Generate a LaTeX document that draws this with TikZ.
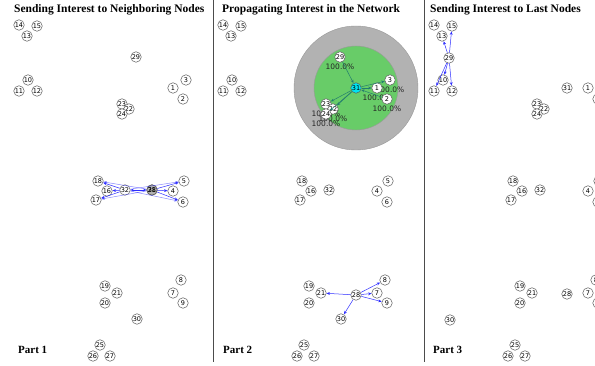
\documentclass[tikz,border=0pt]{standalone}
\usepackage{fontspec}
\setmainfont{Liberation Serif}
\newfontfamily\nodefont{DejaVu Sans}
\usetikzlibrary{arrows.meta,positioning,backgrounds}
\definecolor{interestBlue}{RGB}{45,45,255}
\definecolor{gradTeal}{RGB}{35,125,110}
\definecolor{rangeGray}{RGB}{178,178,178}
\definecolor{rangeGreen}{RGB}{104,204,104}
\definecolor{sinkCyan}{RGB}{0,228,240}
\tikzset{
	sensor/.style={circle,draw=black!65,line width=0.5pt,fill=white,minimum size=10.5pt,inner sep=0pt,font=\nodefont\fontsize{6.5}{6.5}\selectfont},
	interest/.style={-{Stealth[length=3.4pt,width=2.8pt]},interestBlue,line width=0.5pt},
	gradient/.style={-{Stealth[length=3.4pt,width=2.8pt]},gradTeal,line width=0.5pt},
	divider/.style={black!70,line width=1pt},
	title/.style={font=\bfseries\fontsize{11.5}{13}\selectfont,anchor=base west,inner sep=0pt},
	part/.style={font=\bfseries\fontsize{11}{12}\selectfont,anchor=base west,inner sep=0pt},
	rate/.style={font=\nodefont\fontsize{7.5}{8}\selectfont,text=black!85,inner sep=0pt},
}

\begin{document}
\begin{tikzpicture}[x=1pt,y=-1pt]
	\useasboundingbox (0,0) rectangle (595,366);
	\clip (0,0) rectangle (595,366);
	
	\draw[divider] (213,0) -- (213,362);
	\draw[divider] (424,0) -- (424,362);
	\node[title] (title1) at (14,13) {Sending Interest to Neighboring Nodes};
	\node[title] (title2) at (222,13) {Propagating Interest in the Network};
	\node[title] (title3) at (430,13) {Sending Interest to Last Nodes};
	\node[part] (part1) at (18,354) {Part 1};
	\node[part] (part2) at (223,354) {Part 2};
	\node[part] (part3) at (433,354) {Part 3};
	
	% range of the sink in part 2
	\begin{scope}[on background layer]
		\filldraw[fill=rangeGray,draw=black!40] (356,88) circle (62pt);
		\filldraw[fill=rangeGreen,draw=black!40] (356,88) circle (42pt);
	\end{scope}
	
	% nodes that stay put
	\foreach \px/\p in {0/1,204/2,415/3}{
		\foreach \n/\x/\y in {14/19/25,15/37/26,13/27/36,10/28/80,11/19/91,12/37/91,
			3/186/80,1/173/88,2/183/99,23/122/104,22/129/109,24/122/114,
			18/98/181,16/107/191,17/96/200,32/125/190,4/173/191,5/184/181,6/183/202,
			19/105/286,21/117/293,20/105/303,8/181/280,7/173/293,9/183/303,
			25/100/345,26/93/356,27/110/356}
			\node[sensor] (p\p-\n) at (\x+\px,\y) {\n};
	}
	
	% mobile nodes
	\node[sensor] (p1-29) at (136,57) {29};
	\node[sensor] (p1-30) at (137,319) {30};
	\node[sensor,fill=black!30] (p1-28) at (152,190) {28};
	\node[sensor,fill=none] (p1-31) at (152,190) {31};
	\node[sensor] (p2-29) at (340,57) {29};
	\node[sensor] (p2-30) at (341,319) {30};
	\node[sensor,fill=sinkCyan] (p2-31) at (356,88) {31};
	\node[sensor] (p2-28) at (356,295) {28};
	\node[sensor] (p3-29) at (449,58) {29};
	\node[sensor] (p3-30) at (450,320) {30};
	\node[sensor] (p3-31) at (567,88) {31};
	\node[sensor] (p3-28) at (567,294) {28};
	
	% delivery rates
	\begin{scope}[on background layer]
		\foreach \n in {29,3,1,2,23,22,24}
			\node[rate,below=1.2pt of p2-\n] (r\n) {100.0\%};
	\end{scope}
	
	% part 1
	\foreach \n in {18,16,17} \draw[interest] (p1-32) -- (p1-\n);
	\foreach \n in {18,17} \draw[interest,opacity=.55] (p1-31) -- (p1-\n);
	\draw[interest,{Stealth[length=3.4pt,width=2.8pt]}-{Stealth[length=3.4pt,width=2.8pt]}] (p1-32) -- (p1-31);
	\foreach \n in {5,4,6} \draw[interest] (p1-31) -- (p1-\n);
	\foreach \n in {5,6} \draw[interest,opacity=.55] (p1-32) -- (p1-\n);
	
	% part 2
	\draw[gradient] (p2-29) -- (p2-31);
	\foreach \n in {3,1,23,22,24} \draw[gradient] (p2-31) -- (p2-\n);
	\draw[gradient] (p2-2) -- (p2-31);
	\foreach \n in {21,8,7,9,30} \draw[interest] (p2-28) -- (p2-\n);
	
	% part 3
	\foreach \n in {13,15,10,11,12} \draw[interest] (p3-29) -- (p3-\n);
\end{tikzpicture}
\end{document}
